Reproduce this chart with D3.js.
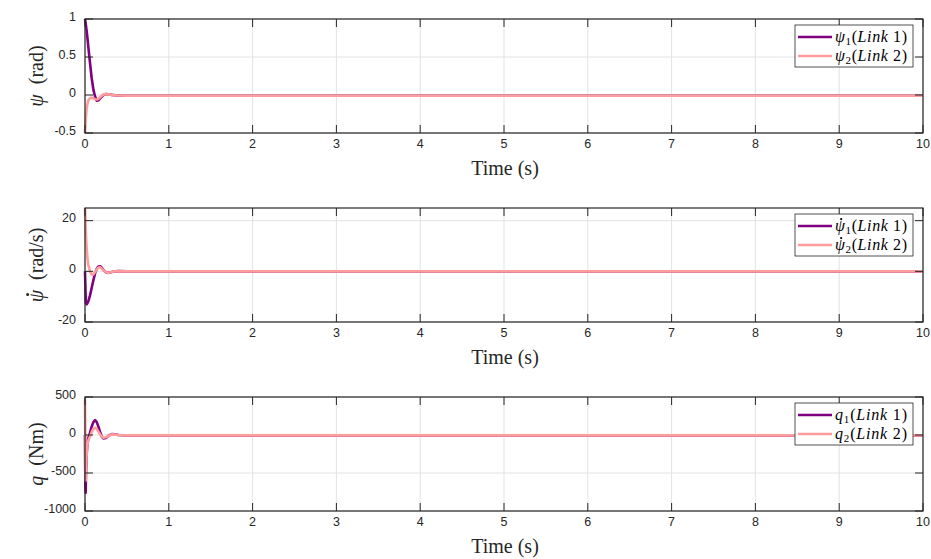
<!DOCTYPE html>
<html>
<head>
<meta charset="utf-8">
<script src="https://cdn.jsdelivr.net/npm/d3@7"></script>
<style>
  body { margin: 0; background: #fff; }
  svg { display: block; }
</style>
</head>
<body>
<svg id="chart" width="931" height="559"></svg>
<script>
// time samples for the angle / rate panels (s)
var tPsi = [0, 0.01, 0.02, 0.03, 0.04, 0.06, 0.08, 0.10, 0.12, 0.14, 0.16, 0.18, 0.20, 0.22, 0.25, 0.28, 0.32, 0.36, 0.40, 0.50, 1, 10];
var psi1 = [1, 0.93, 0.84, 0.74, 0.63, 0.42, 0.22, 0.07, -0.02, -0.075, -0.07, -0.045, -0.02, 0.0, 0.012, 0.01, 0.002, -0.004, -0.006, -0.01, -0.01, -0.01];
var psi2 = [-0.5, -0.3, -0.18, -0.11, -0.07, -0.04, -0.035, -0.045, -0.055, -0.06, -0.05, -0.03, -0.01, 0.005, 0.012, 0.008, 0.002, -0.004, -0.006, -0.01, -0.01, -0.01];
var dpsi1 = [0, -12.5, -13, -12.5, -11.8, -9.5, -6.5, -3.5, -0.8, 1.0, 1.9, 2.0, 1.4, 0.5, -0.4, -0.6, -0.3, 0, 0.1, 0, 0, 0];
var dpsi2 = [25, 15, 9, 5, 2.5, 0, -1.3, -1.2, -0.3, 0.8, 1.5, 1.6, 1.1, 0.4, -0.4, -0.6, -0.3, 0, 0.1, 0, 0, 0];

// time samples for the torque panel (s)
var tQ = [0, 0.004, 0.008, 0.012, 0.02, 0.03, 0.04, 0.06, 0.08, 0.10, 0.12, 0.14, 0.16, 0.18, 0.20, 0.22, 0.25, 0.28, 0.32, 0.36, 0.40, 0.50, 1, 10];
var q1 = [0, -650, -760, -500, -250, -100, -40, 30, 110, 170, 195, 170, 110, 40, -20, -45, -40, -10, 12, 8, 0, -5, -5, -5];
var q2 = [470, -100, -600, -450, -250, -120, -70, -20, 40, 80, 95, 80, 45, 10, -20, -35, -30, -10, 8, 5, 0, -5, -5, -5];

var xTicks = [0, 1, 2, 3, 4, 5, 6, 7, 8, 9, 10];

var panels = [
  { top: 19, domain: [-0.5, 1], ticks: [-0.5, 0, 0.5, 1],
    unit: "(rad)", t: tPsi, s1: psi1, s2: psi2, sym: "ψ", dot: false, legY: 25 },
  { top: 208, domain: [-20, 25], ticks: [-20, 0, 20],
    unit: "(rad/s)", t: tPsi, s1: dpsi1, s2: dpsi2, sym: "ψ", dot: true, legY: 214 },
  { top: 397, domain: [-1000, 500], ticks: [-1000, -500, 0, 500],
    unit: "(Nm)", t: tQ, s1: q1, s2: q2, sym: "q", dot: false, legY: 403 }
];

var left = 85, right = 923, h = 114;
var c1 = "#7f0080", c2 = "#ff9c9c";
var axisCol = "#262626";
var serif = "Liberation Serif, DejaVu Serif, serif";
var sans = "Liberation Sans, Arial, sans-serif";

var svg = d3.select("#chart");
var x = d3.scaleLinear().domain([0, 10]).range([left, right]);

// puts a dot above the first glyph of a text element
function addDot(textSel, parent, r) {
  var box = textSel.node().getExtentOfChar(0);
  parent.append("circle")
    .attr("cx", box.x + box.width * 0.62)
    .attr("cy", box.y + box.height * 0.12)
    .attr("r", r).attr("fill", textSel.attr("fill"));
}

panels.forEach(function(p) {
  var y = d3.scaleLinear().domain(p.domain).range([p.top + h, p.top]);
  var g = svg.append("g");

  // grid
  g.selectAll("line.gx").data(xTicks).enter().append("line")
    .attr("x1", d => x(d)).attr("x2", d => x(d))
    .attr("y1", p.top).attr("y2", p.top + h)
    .attr("stroke", "#e3e3e3").attr("stroke-width", 1);
  g.selectAll("line.gy").data(p.ticks).enter().append("line")
    .attr("x1", left).attr("x2", right)
    .attr("y1", d => y(d)).attr("y2", d => y(d))
    .attr("stroke", "#e3e3e3").attr("stroke-width", 1);

  // series
  var line = d3.line().x(d => x(d[0])).y(d => y(d[1]));
  g.append("path").datum(d3.zip(p.t, p.s1)).attr("d", line)
    .attr("fill", "none").attr("stroke", c1).attr("stroke-width", 2.6)
    .attr("stroke-linejoin", "round");
  g.append("path").datum(d3.zip(p.t, p.s2)).attr("d", line)
    .attr("fill", "none").attr("stroke", c2).attr("stroke-width", 2.6)
    .attr("stroke-linejoin", "round");

  // inward ticks
  var tl = 8;
  xTicks.forEach(function(d) {
    g.append("line").attr("x1", x(d)).attr("x2", x(d))
      .attr("y1", p.top + h).attr("y2", p.top + h - tl)
      .attr("stroke", axisCol).attr("stroke-width", 1);
    g.append("line").attr("x1", x(d)).attr("x2", x(d))
      .attr("y1", p.top).attr("y2", p.top + tl)
      .attr("stroke", axisCol).attr("stroke-width", 1);
  });
  p.ticks.forEach(function(d) {
    g.append("line").attr("x1", left).attr("x2", left + tl)
      .attr("y1", y(d)).attr("y2", y(d))
      .attr("stroke", axisCol).attr("stroke-width", 1);
    g.append("line").attr("x1", right).attr("x2", right - tl)
      .attr("y1", y(d)).attr("y2", y(d))
      .attr("stroke", axisCol).attr("stroke-width", 1);
  });

  // frame
  g.append("rect").attr("x", left).attr("y", p.top)
    .attr("width", right - left).attr("height", h)
    .attr("fill", "none").attr("stroke", axisCol).attr("stroke-width", 1.2);

  // tick labels
  g.selectAll("text.xt").data(xTicks).enter().append("text")
    .attr("x", d => x(d)).attr("y", p.top + h + 15)
    .attr("text-anchor", "middle")
    .attr("font-family", sans).attr("font-size", 12.5).attr("fill", axisCol)
    .text(d => d);
  g.selectAll("text.yt").data(p.ticks).enter().append("text")
    .attr("x", left - 9).attr("y", d => y(d) + 1.5)
    .attr("text-anchor", "end")
    .attr("font-family", sans).attr("font-size", 12.5).attr("fill", axisCol)
    .text(d => String(d));

  // x label
  g.append("text").attr("x", (left + right) / 2 + 1).attr("y", p.top + h + 42)
    .attr("text-anchor", "middle")
    .attr("font-family", serif).attr("font-size", 20).attr("fill", axisCol)
    .text("Time (s)");

  // y label
  var yg = g.append("g")
    .attr("transform", "translate(43," + (p.top + h / 2) + ") rotate(-90)");
  var yl = yg.append("text")
    .attr("text-anchor", "middle")
    .attr("font-family", serif).attr("font-size", 20).attr("fill", axisCol);
  yl.append("tspan").attr("font-style", "italic").text(p.sym);
  yl.append("tspan").text("\u2002" + p.unit);
  if (p.dot) addDot(yl, yg, 1.5);

  // legend
  var lx = 795, lw = 118, lh = 42, ly = p.legY;
  var lg = g.append("g");
  lg.append("rect").attr("x", lx).attr("y", ly).attr("width", lw).attr("height", lh)
    .attr("fill", "#fff").attr("stroke", axisCol).attr("stroke-width", 0.8);
  [[c1, "1"], [c2, "2"]].forEach(function(e, i) {
    var cy = ly + 12 + i * 19;
    lg.append("line").attr("x1", lx + 3).attr("x2", lx + 37)
      .attr("y1", cy).attr("y2", cy)
      .attr("stroke", e[0]).attr("stroke-width", 2.6);
    var t = lg.append("text").attr("x", lx + 40).attr("y", cy + 5)
      .attr("font-family", serif).attr("font-size", 16).attr("fill", "#000")
      .attr("textLength", 72).attr("lengthAdjust", "spacing");
    t.append("tspan").attr("font-style", "italic").text(p.sym);
    t.append("tspan").attr("font-size", 11).attr("dy", 3).text(e[1]);
    t.append("tspan").attr("dy", -3).text("(");
    t.append("tspan").attr("font-style", "italic").text("Link");
    t.append("tspan").text(" " + e[1] + ")");
    if (p.dot) addDot(t, lg, 1.1);
  });
});
</script>
</body>
</html>
